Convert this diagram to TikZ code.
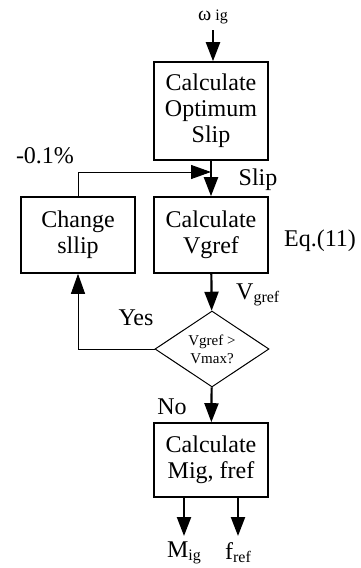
\documentclass[tikz,border=0pt]{standalone}
\usepackage{fontspec}
\setmainfont{Liberation Serif}
\usetikzlibrary{arrows.meta,shapes.geometric}

\tikzset{
  block/.style = {draw, line width=1.6pt, align=center, inner sep=0pt,
                  minimum width=114pt, font=\fontsize{24}{26}\selectfont},
  cond/.style  = {draw, diamond, line width=1pt, align=center, inner sep=0pt,
                  minimum width=114pt, minimum height=74pt,
                  font=\fontsize{15}{18}\selectfont},
  lbl/.style   = {inner sep=0pt, font=\fontsize{24}{26}\selectfont},
  arr/.style   = {line width=2.2pt, -{Triangle[length=19pt,width=14pt]}},
  fbarr/.style = {line width=1pt, -{Triangle[length=20pt,width=14pt]}},
}
\newcommand{\sm}[1]{{\fontsize{16}{16}\selectfont #1}}

\begin{document}
\begin{tikzpicture}[x=1pt,y=-1pt]
  \useasboundingbox (0,0) rectangle (360,568);

  % blocks
  \node[lbl] (omega) at (213,17) {{\fontsize{20}{20}\selectfont ω}\,\sm{ig}};
  \node[block, minimum height=98pt] (opt) at (211,111) {Calculate\\Optimum\\Slip};
  \node[block, minimum height=76pt] (vg) at (211,235) {Calculate\\Vgref};
  \node[block, minimum height=76pt] (chg) at (78,235) {Change\\sllip};
  \node[cond] (cmp) at (212,349) {Vgref >\\Vmax?};
  \node[block, minimum height=74pt] (mig) at (211,460) {Calculate\\Mig, fref};

  % labels
  \node[lbl] (pct) at (45,156) {-0.1\%};
  \node[lbl] (slip) at (258,180) {Slip};
  \node[lbl] (eq) at (320,241) {Eq.(11)};
  \node[lbl, anchor=west] (vlab) at (236,295) {V\raisebox{-3pt}{\sm{gref}}};
  \node[lbl] (yes) at (136,318) {Yes};
  \node[lbl] (no) at (172,407) {No};
  \node[lbl] (mout) at (184,553) {M\raisebox{-3pt}{\sm{ig}}};
  \node[lbl] (fout) at (238,553) {f\raisebox{-3pt}{\sm{ref}}};
  \coordinate (join) at (211,172);

  % connectors
  \draw[arr] (213,30) -- (opt.north -| 213,0);
  \draw[arr] (opt) -- (vg);
  \draw[fbarr] (chg.north) |- (join);
  \draw[arr] (vg) -- (cmp);
  \draw[fbarr] (cmp.west) -| (chg.south);
  \draw[arr] (cmp) -- (mig);
  \draw[arr] (mig.south -| mout) -- (184,536);
  \draw[arr] (mig.south -| fout) -- (238,536);
\end{tikzpicture}
\end{document}
